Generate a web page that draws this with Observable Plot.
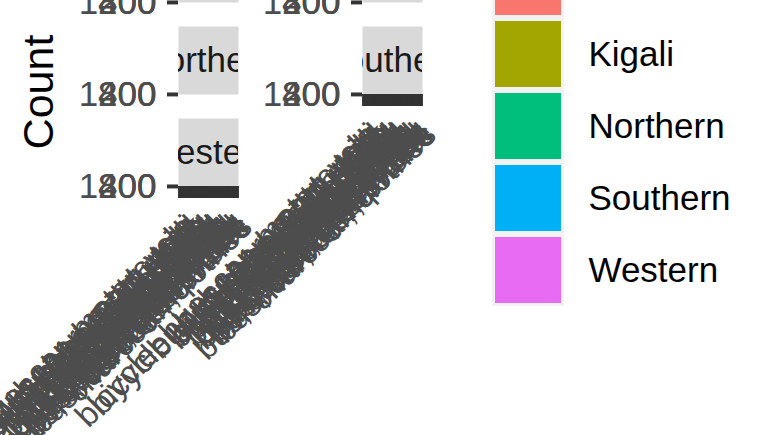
<!DOCTYPE html>
<html><head><meta charset="utf-8">
<script src="https://cdn.jsdelivr.net/npm/d3@7"></script>
<script src="https://cdn.jsdelivr.net/npm/@observablehq/plot@0.6"></script>
<style>
body{margin:0;background:#fff;overflow:hidden;font-family:"Liberation Sans",Arial,sans-serif;}
#wrap{position:relative;width:781px;height:435px;overflow:hidden;background:#fff;}
#chart{position:absolute;left:0;top:-66px;}
#legend{position:absolute;left:480px;top:-60px;}
#ytitle{position:absolute;left:38px;top:92px;transform:translate(-50%,-50%) rotate(-90deg);font-size:43px;color:#000;white-space:nowrap;line-height:1;}
</style></head>
<body><div id="wrap"><div id="chart"></div><div id="legend"></div><div id="ytitle">Count</div></div>
<script>
const regions = ["Eastern","Kigali","Northern","Southern","Western"];
const regionColors = ["#F8766D","#A3A500","#00BF7D","#00B0F6","#E76BF3"];
const yTicks = [0,400,800,1200];
const categories = [
 "bicycle, bus, car, motorcycle",
 "bicycle, bus, car, moto, taxi",
 "bus, beer, bread, milk",
 "bus, beer, charcoal",
 "bus, beer, clothes",
 "bus, beer, food, milk",
 "bus, beer, fuel, soap",
 "bus, beer, milk, soap",
 "bus, beer, phone",
 "bus, beer, rent, salt",
 "bus, beer, school",
 "bus, beer, soap, tea",
 "bus, beer, sugar",
 "bus, beer, water",
 "bus, bread, charcoal",
 "bus, charcoal, food",
 "bus, clothes, milk",
 "bus, food, milk, beer",
 "bus, fuel, phone, tea",
 "bus, milk, soap, salt",
 "bus, phone, rent, tea",
 "bus, rent, school",
 "bus, salt, sugar, tea",
 "bus, school, water",
 "bus, soap, sugar, oil",
 "bus, sugar, water",
 "bus, water, wood, salt",
 "bus, wood, charcoal",
 "car, fuel, phone",
 "charcoal, clothes"
];
const eastern  = [310,240,880,1040,760,620,540,1180,930,410,690,820,1270,560,330,720,980,1120,450,600,870,510,390,760,940,1010,480,280,160,210];
const kigali   = [420,360,940,1210,820,700,610,1250,1020,520,760,900,1300,640,380,800,1060,1190,530,680,960,590,450,840,1030,1090,560,330,250,290];
const northern = [260,200,760,920,650,540,470,1050,810,360,600,720,1140,480,290,630,860,990,390,520,770,440,340,660,830,890,420,240,130,180];
const southern = [290,220,820,990,700,580,510,1120,870,390,640,770,1210,520,310,680,920,1060,420,560,820,480,370,710,890,950,450,260,150,200];
const western  = [300,230,850,1010,730,600,520,1150,900,400,660,800,1240,540,320,700,950,1090,440,580,850,500,380,740,910,980,470,270,150,200];
const countsByRegion = [eastern, kigali, northern, southern, western];

const data = [];
regions.forEach((r, i) => categories.forEach((c, j) => data.push({
  region: r, category: c, count: countsByRegion[i][j], col: i % 2, row: Math.floor(i / 2)
})));
const strips = regions.map((r, i) => ({region: r, col: i % 2, row: Math.floor(i / 2)}));

const font = "Liberation Sans, Arial, sans-serif";
const chart = Plot.plot({
  width: 781, height: 501,
  marginLeft: 178, marginRight: 359, marginTop: 0, marginBottom: 249,
  style: {fontFamily: font, background: "transparent"},
  fx: {domain: [0, 1], paddingInner: 124 / 184, paddingOuter: 0, round: false, axis: null},
  fy: {domain: [0, 1, 2], paddingInner: 24 / 92, paddingOuter: 0, round: false, axis: null},
  x: {type: "band", domain: categories, paddingInner: 0.1, paddingOuter: 0.15, round: false, axis: null},
  y: {domain: [0, 1300], range: [68, 67.95], axis: null},
  color: {domain: regions, range: regionColors},
  marks: [
    Plot.barY(data, {fx: "col", fy: "row", x: "category", y: "count", fill: "region"}),
    Plot.frame({fill: "#D9D9D9"}),
    Plot.text(strips, {fx: "col", fy: "row", text: "region", frameAnchor: "middle", fontSize: 35, fill: "#1A1A1A", clip: true}),
    Plot.axisY(yTicks, {facetAnchor: null, tickSize: 11, tickPadding: 11, fontSize: 35, color: "#4D4D4D", stroke: "#333333", strokeWidth: 3.3, tickFormat: d => String(d), label: null}),
    Plot.axisX({facetAnchor: "bottom-empty", tickSize: 12, tickPadding: 14, tickRotate: -45, textAnchor: "end", lineAnchor: "top", fontSize: 33, color: "#4D4D4D", stroke: "#333333", strokeWidth: 3.3, label: null})
  ]
});
document.getElementById("chart").appendChild(chart);

const legend = Plot.plot({
  width: 300, height: 380,
  marginLeft: 15, marginRight: 219, marginTop: 9, marginBottom: 17,
  style: {fontFamily: font, background: "transparent"},
  x: {axis: null},
  y: {type: "band", domain: regions, paddingInner: 6 / 72, paddingOuter: 0, round: false, axis: null},
  color: {domain: regions, range: regionColors},
  marks: [
    Plot.cell(regions, {y: d => d, fill: "#F2F2F2", insetTop: -3, insetBottom: -3, insetLeft: -3, insetRight: -3}),
    Plot.cell(regions, {y: d => d, fill: d => d}),
    Plot.text(regions, {y: d => d, text: d => d, frameAnchor: "right", dx: 27, textAnchor: "start", fontSize: 35, fill: "#000000"})
  ]
});
document.getElementById("legend").appendChild(legend);
</script>
</body></html>
